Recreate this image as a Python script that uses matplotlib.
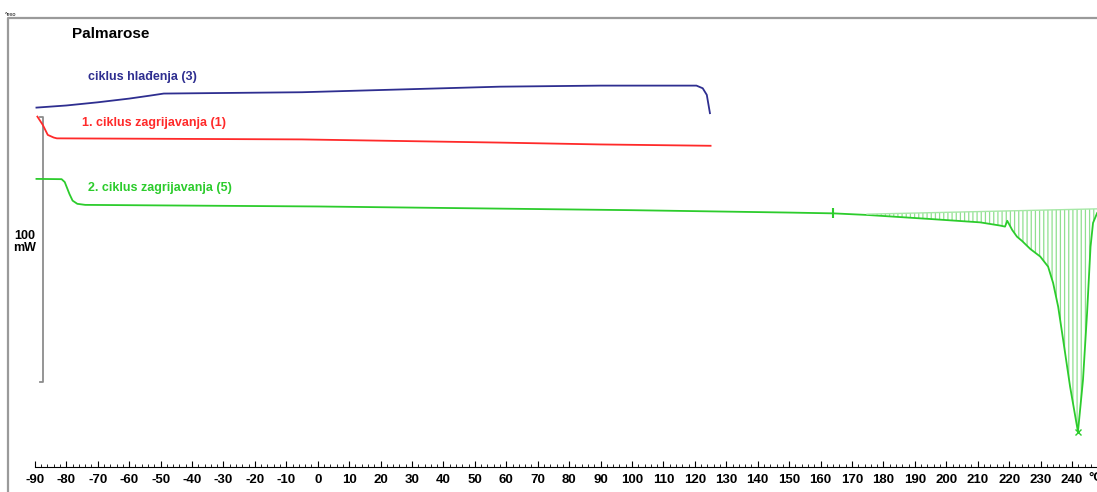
import numpy as np
import matplotlib
matplotlib.use("Agg")
import matplotlib.pyplot as plt
from matplotlib.ticker import FixedLocator

plt.rcParams['font.family'] = ['Liberation Sans', 'DejaVu Sans']
plt.rcParams['hatch.linewidth'] = 0.9
plt.rcParams['axes.unicode_minus'] = False

# cooling cycle (3)
cool_t = [-89.5, -80, -70, -60, -53.5, -49, -5, 58, 90, 120.5, 122.5, 123.8, 124.8]
cool_mw = [135.6, 136.4, 137.6, 139.0, 140.1, 140.9, 141.4, 143.5, 143.9, 143.9, 142.9, 140.4, 133.5]

# 1st heating cycle (1)
heat1_t = [-89.2, -87.5, -85.9, -84, -83, -5, 58, 90, 125]
heat1_mw = [132.2, 129.1, 125.3, 124.3, 124.0, 123.6, 122.4, 121.7, 121.2]

# 2nd heating cycle (5)
heat2_t = [-89.5, -81.5, -80.5, -79, -78, -76.5, -74, -50, 0, 50, 100, 150, 164,
           174.8, 195.8, 210.8, 217.1, 218.7, 219.4, 221.0, 222.5, 224.1, 226.7,
           229.9, 232.4, 234.0, 235.6, 237.2, 239.4, 241.9, 243.5, 244.8, 245.9,
           246.7, 248.0]
heat2_mw = [108.7, 108.6, 107.5, 103.0, 100.5, 99.3, 98.9, 98.7, 98.3, 97.6, 96.9, 96.0, 95.7,
            95.1, 93.5, 92.3, 91.1, 90.7, 92.9, 89.4, 86.9, 85.3, 82.3,
            79.4, 75.6, 69.4, 60.5, 47.9, 30.3, 13.3, 32.8, 58.1, 83.1,
            92.1, 95.8]

# integration limits / baseline
base_t = [174.8, 248.0]
base_mw = [95.4, 97.4]
limit_t = 164
peak_t = 241.9

scale_top = 132.1  # 100 mW scale bar
scale_len = 100

fig = plt.figure(figsize=(10.97, 4.92), dpi=100)
ax = fig.add_axes([0, 0, 1, 1])
ax.set_xlim(-101.1, 247.96)
ax.set_ylim(-9.43, 176.2)

for s in ['left', 'right', 'top']:
    ax.spines[s].set_visible(False)
ax.spines['bottom'].set_position(('data', 0))
ax.spines['bottom'].set_bounds(-90, 248)
ax.spines['bottom'].set_linewidth(0.8)
ax.yaxis.set_visible(False)
ax.xaxis.set_major_locator(FixedLocator(np.arange(-90, 241, 10)))
ax.xaxis.set_minor_locator(FixedLocator(np.arange(-90, 249, 2)))
ax.tick_params(axis='x', which='major', direction='in', length=4, width=0.8, pad=5,
               labelsize=9.5)
ax.tick_params(axis='x', which='minor', direction='in', length=2, width=0.6)
for lab in ax.get_xticklabels():
    lab.set_fontweight('bold')
ax.text(245.3, -4.2, '°C', fontsize=9.5, fontweight='bold', va='center', ha='left')

# frame
ax.plot([0.0073, 0.0073, 1.0], [0.0, 0.9634, 0.9634], transform=ax.transAxes,
        color='#9a9a9a', lw=1.6, clip_on=False)

# scale bar
ax.plot([-88.4, -87.5, -87.5, -88.4],
        [scale_top, scale_top, scale_top - scale_len, scale_top - scale_len],
        color='#8c8c8c', lw=1.3)
ax.text(-93.2, 84.9, '100\nmW', fontsize=9, fontweight='bold', ha='center', va='center',
        linespacing=1.1)

ax.plot(cool_t, cool_mw, color='#2e2e90', lw=1.3)
ax.plot(heat1_t, heat1_mw, color='#ff2a2a', lw=1.3)
ax.plot(heat2_t, heat2_mw, color='#2ccc2c', lw=1.3)

# integrated peak area
tt = np.linspace(base_t[0], base_t[1], 400)
curve = np.interp(tt, heat2_t, heat2_mw)
base = np.interp(tt, base_t, base_mw)
ax.fill_between(tt, curve, base, facecolor='none', edgecolor='#8fe08f', hatch='||||',
                linewidth=0)
ax.plot(base_t, base_mw, color='#a6e8a6', lw=1.0)
ax.plot([limit_t], [np.interp(limit_t, heat2_t, heat2_mw)], marker='|', ms=7, mew=1.5,
        color='#2ccc2c')
ax.plot([peak_t], [np.interp(peak_t, heat2_t, heat2_mw)], marker='x', ms=4, mew=1.0,
        color='#2ccc2c')

ax.text(-99.5, 170.9, '^exo', fontsize=4, ha='left', va='center')
ax.text(-78.2, 163.4, 'Palmarose', fontsize=11, fontweight='bold', ha='left', va='center')
ax.text(-73.1, 147.2, 'ciklus hlađenja (3)', fontsize=9, fontweight='bold',
        color='#2e2e90', ha='left', va='center')
ax.text(-75.0, 129.8, '1. ciklus zagrijavanja (1)', fontsize=9, fontweight='bold',
        color='#ff2a2a', ha='left', va='center')
ax.text(-73.1, 105.3, '2. ciklus zagrijavanja (5)', fontsize=9, fontweight='bold',
        color='#2ccc2c', ha='left', va='center')

fig.savefig('out.png', dpi=100)
